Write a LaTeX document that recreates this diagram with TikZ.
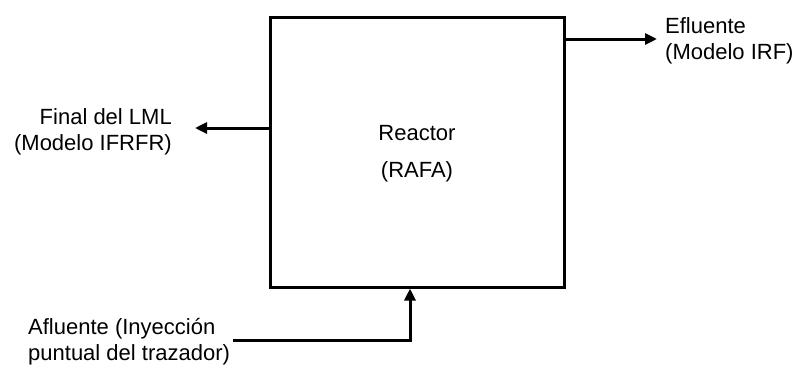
\documentclass[tikz,border=0pt]{standalone}
\usepackage{fontspec}
\setmainfont{Liberation Sans}
\usetikzlibrary{arrows.meta}
\tikzset{
	flujo/.style={line width=3pt,-{Triangle[length=12pt,width=11pt]}},
	etiqueta/.style={inner sep=0pt,font=\fontsize{22}{26}\selectfont}
}
\begin{document}
\begin{tikzpicture}[x=1pt,y=-1pt]
	\useasboundingbox (0,0) rectangle (798,367);

	% Reactor
	\node[draw,line width=3pt,minimum width=294pt,minimum height=270pt,inner sep=0pt] (reactor) at (417,152) {};
	\node[etiqueta] (nombre) at (417,133) {Reactor};
	\node[etiqueta] (sigla) at (417,172) {(RAFA)};

	% Etiquetas
	\node[etiqueta,anchor=east,align=right] (txtFinal) at (172,132) {Final del LML\\(Modelo IFRFR)};
	\node[etiqueta,anchor=west,align=left] (txtEfluente) at (665,41) {Efluente\\(Modelo IRF)};
	\node[etiqueta,anchor=west,align=left] (txtAfluente) at (28,342) {Afluente (Inyección\\puntual del trazador)};

	% Salidas y entrada
	\coordinate (finalLML) at (195,128);
	\coordinate (efluente) at (657,39);
	\coordinate (afluente) at (233,340);
	\coordinate (codo) at (410,340);

	\draw[flujo] (reactor.west |- finalLML) -- (finalLML);
	\draw[flujo] (reactor.east |- efluente) -- (efluente);
	\draw[flujo] (afluente) -- (codo) -- (codo |- reactor.south);
\end{tikzpicture}
\end{document}
